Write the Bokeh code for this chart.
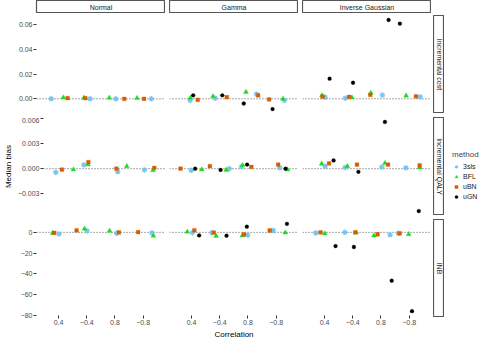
import math
from bokeh.plotting import figure
from bokeh.models import Range1d, FixedTicker, Span, Legend, LegendItem
from bokeh.layouts import row, column
from bokeh.embed import file_html
from bokeh.resources import INLINE
from bokeh.core.properties import value

# ---------------- data ----------------
methods = ["3sls", "BFL", "uBN", "uGN"]
correlations = ["0.4", "\u22120.4", "0.8", "\u22120.8"]
distributions = ["Normal", "Gamma", "Inverse Gaussian"]
outcomes = ["Incremental cost", "Incremental QALY", "INB"]

# values ordered method-major (3sls, BFL, uBN[, uGN]) x correlation (0.4, -0.4, 0.8, -0.8)
bias_normal_cost = [0.0, 0.0, 0.0, 0.0, 0.001, 0.0008, 0.0008, 0.0006, 0.0005, 0.0005, 0.0, 0.0]
jit_normal_cost = [-0.26, 0.12, 0.03, 0.29, 0.17, -0.10, -0.20, -0.22, 0.32, -0.05, 0.33, 0.03]
bias_normal_qaly = [-0.00045, 0.00045, -0.00035, -0.00015, -0.0001, 0.0005, 0.0003, -0.0002, -0.0001, 0.0008, 0.0, 0.0001]
jit_normal_qaly = [-0.32, -0.27, 0.0, 0.0, 0.34, -0.11, 0.34, 0.32, -0.09, -0.10, -0.05, 0.37]
bias_normal_inb = [-1.5, 1.4, -0.9, -0.5, -0.6, 3.5, 1.4, -3.3, -0.5, 2.0, 0.0, 0.3]
jit_normal_inb = [0.02, 0.01, 0.06, 0.31, -0.21, -0.08, -0.19, 0.36, -0.15, -0.36, 0.14, -0.18]

bias_gamma_cost = [-0.0013, 0.0005, 0.0037, -0.0013, 0.0008, 0.002, 0.0055, 0.0, -0.0008, 0.0013, 0.0028, -0.0005, 0.0028, 0.0028, -0.0038, -0.0083]
jit_gamma_cost = [-0.05, -0.16, 0.30, 0.29, -0.04, -0.24, -0.07, 0.24, 0.22, 0.25, 0.36, -0.25, 0.06, 0.09, -0.15, -0.13]
bias_gamma_qaly = [-0.0002, 0.0, 0.00026, 0.0001, -0.0001, -0.00015, 0.0004, -0.0001, 0.0, 0.0003, 0.00022, 0.0005, 0.0, -0.00015, 0.0005, 0.0]
jit_gamma_qaly = [-0.01, 0.34, -0.23, 0.13, 0.36, 0.23, -0.19, 0.40, -0.39, -0.35, 0.12, 0.07, 0.13, 0.03, -0.03, 0.33]
bias_gamma_inb = [-0.3, -0.3, -2.6, 1.8, 0.5, -3.5, -3.2, -0.3, 2.0, -0.3, -2.0, 1.8, -3.0, -3.2, 5.5, 8.2]
jit_gamma_inb = [0.03, -0.28, -0.01, -0.11, -0.15, -0.13, -0.20, 0.32, 0.10, -0.21, -0.14, -0.23, 0.27, 0.24, -0.04, 0.38]

bias_ig_cost = [0.0013, 0.0005, 0.003, 0.0015, 0.0028, 0.001, 0.0047, 0.0025, 0.0017, 0.0015, 0.0032, 0.002, 0.0163, 0.013, 0.0638, 0.0608]
jit_ig_cost = [0.02, -0.26, 0.05, 0.39, -0.09, -0.03, -0.36, -0.11, -0.07, -0.13, -0.38, 0.24, 0.18, 0.01, 0.27, -0.33]
bias_ig_qaly = [0.0003, 0.00015, 0.0002, 0.0001, 0.0006, 0.0003, 0.00067, 0.00015, 0.00063, 0.00048, 0.00048, 0.0004, 0.001, -0.00038, 0.00563, -0.0051]
jit_ig_qaly = [0.02, -0.27, 0.03, -0.12, -0.10, -0.19, 0.14, 0.37, 0.16, 0.15, 0.25, 0.37, 0.32, 0.20, 0.14, 0.34]
bias_ig_inb = [-0.6, 0.0, -2.4, -0.9, -1.2, -0.3, -3.2, -1.8, 0.0, 0.0, -1.8, -0.9, -13.2, -14.1, -46.6, -76.0]
jit_ig_inb = [-0.31, -0.28, 0.32, -0.38, 0.01, 0.12, -0.25, -0.02, -0.14, 0.09, -0.12, -0.34, 0.39, 0.04, 0.38, 0.10]

yticks_cost = [0.0, 0.02, 0.04, 0.06]
ylabels_cost = ["0.00", "0.02", "0.04", "0.06"]
yticks_qaly = [-0.003, 0.0, 0.003, 0.006]
ylabels_qaly = ["\u22120.003", "0.000", "0.003", "0.006"]
yticks_inb = [-80, -60, -40, -20, 0]
ylabels_inb = ["\u221280", "\u221260", "\u221240", "\u221220", "0"]

# ---------------- styling ----------------
FONT = "Liberation Sans"
PW, PH = 129, 98
LB, BB = 36, 24
STRIP_H, RSTRIP_W, GAP = 13, 11, 4

marker_style = {
    "3sls": dict(marker="asterisk", size=5.5, line_color="#74c2f2", line_width=1.3, line_alpha=0.95),
    "BFL": dict(marker="triangle", size=5, line_color="#1adc1a", fill_color="#1adc1a", line_width=0.3),
    "uBN": dict(marker="square", size=3.8, line_color="#d55e00", fill_color="#d55e00", line_width=0.3),
    "uGN": dict(marker="circle", size=3.8, line_color="black", fill_color="black", line_width=0.3),
}

panel_data = [
    [(bias_normal_cost, jit_normal_cost), (bias_gamma_cost, jit_gamma_cost), (bias_ig_cost, jit_ig_cost)],
    [(bias_normal_qaly, jit_normal_qaly), (bias_gamma_qaly, jit_gamma_qaly), (bias_ig_qaly, jit_ig_qaly)],
    [(bias_normal_inb, jit_normal_inb), (bias_gamma_inb, jit_gamma_inb), (bias_ig_inb, jit_ig_inb)],
]
row_ticks = [(yticks_cost, ylabels_cost), (yticks_qaly, ylabels_qaly), (yticks_inb, ylabels_inb)]

x_range = Range1d(0.22, 4.79)

def y_range_for(r):
    vals = [v for (b, _) in panel_data[r] for v in b]
    lo, hi = min(vals), max(vals)
    pad = 0.05 * (hi - lo)
    return Range1d(lo - pad, hi + pad)

def style_axes(p):
    for ax in p.axis:
        ax.axis_line_color = None
        ax.minor_tick_line_color = None
        ax.major_tick_line_color = "#333333"
        ax.major_tick_in = 0
        ax.major_tick_out = 3
        ax.major_label_standoff = 1
        ax.major_label_text_font = FONT
        ax.major_label_text_font_size = "7px"
        ax.major_label_text_color = "#4d4d4d"
        ax.axis_label_text_font = FONT
        ax.axis_label_text_font_size = "8px"
        ax.axis_label_text_font_style = "normal"
        ax.axis_label_text_color = "black"
        ax.axis_label_standoff = 2

def blank_fig(w, h, left=0):
    f = figure(width=w, height=h, x_range=Range1d(0, 1), y_range=Range1d(0, 1),
               output_backend="svg", toolbar_location=None, tools="",
               x_axis_location=None, y_axis_location=None,
               min_border_left=left, min_border_right=0, min_border_top=0, min_border_bottom=0)
    f.grid.visible = False
    f.background_fill_color = "white"
    f.border_fill_color = "white"
    return f

# top strips
top_strips = []
for c, dname in enumerate(distributions):
    s = blank_fig(PW + (LB if c == 0 else 0), STRIP_H, LB if c == 0 else 0)
    s.outline_line_color = "#555555"
    s.outline_line_width = 1.2
    s.text(x=[0.5], y=[0.5], text=[dname], text_align="center", text_baseline="middle",
           text_font=value(FONT), text_font_size="7px", text_color="#1a1a1a")
    top_strips.append(s)

panel_rows = []
for r in range(3):
    yr = y_range_for(r)
    figs = []
    for c in range(3):
        w = PW + (LB if c == 0 else 0)
        h = PH + (BB if r == 2 else 0)
        p = figure(width=w, height=h, x_range=x_range, y_range=yr,
                   output_backend="svg", toolbar_location=None, tools="",
                   x_axis_location="below" if r == 2 else None,
                   y_axis_location="left" if c == 0 else None,
                   min_border_left=LB if c == 0 else 0, min_border_right=0,
                   min_border_top=0, min_border_bottom=BB if r == 2 else 0)
        p.grid.visible = False
        p.outline_line_color = None
        p.background_fill_color = "white"
        p.border_fill_color = "white"
        if r == 2:
            p.xaxis.ticker = FixedTicker(ticks=[1, 2, 3, 4])
            p.xaxis.major_label_overrides = {i + 1: lab for i, lab in enumerate(correlations)}
            if c == 1:
                p.xaxis.axis_label = "Correlation"
        if c == 0:
            ticks, labels = row_ticks[r]
            p.yaxis.ticker = FixedTicker(ticks=ticks)
            p.yaxis.major_label_overrides = {t: l for t, l in zip(ticks, labels)}
            if r == 1:
                p.yaxis.axis_label = "Median bias"
        style_axes(p)
        p.add_layout(Span(location=0, dimension="width", line_color="#444444",
                          line_dash="1 2", line_width=0.9, level="underlay"))
        bias, jit = panel_data[r][c]
        nm = len(bias) // 4
        for m in range(nm):
            xs = [k + 1 + jit[m * 4 + k] for k in range(4)]
            ys = bias[m * 4:(m + 1) * 4]
            p.scatter(x=xs, y=ys, **marker_style[methods[m]])
        figs.append(p)
    rs = blank_fig(RSTRIP_W, PH)
    rs.outline_line_color = "#555555"
    rs.outline_line_width = 1.2
    rs.text(x=[0.5], y=[0.5], text=[outcomes[r]], text_align="center", text_baseline="middle",
            angle=-math.pi / 2, text_font=value(FONT), text_font_size="7px", text_color="#1a1a1a")
    panel_rows.append(row(row(*figs, spacing=GAP), rs, spacing=2))

main = column(row(*top_strips, spacing=GAP), column(*panel_rows, spacing=GAP), spacing=2)

total_h = STRIP_H + 2 + 3 * PH + 2 * GAP + BB
lf = blank_fig(33, total_h)
lf.outline_line_color = None
items = []
nan = float("nan")
for m in methods:
    rend = lf.scatter(x=[nan], y=[nan], **marker_style[m])
    items.append(LegendItem(label=m, renderers=[rend]))
legend = Legend(items=items, title="method", location=(6, 140),
                border_line_color=None, background_fill_alpha=0,
                padding=0, margin=0, spacing=1,
                glyph_width=8, glyph_height=9, label_height=9, label_standoff=3,
                label_text_font=FONT, label_text_font_size="7px", label_text_color="#1a1a1a",
                title_text_font=FONT, title_text_font_size="8px", title_text_font_style="normal",
                title_standoff=3)
lf.add_layout(legend)

layout = row(main, lf, spacing=2)

open("out.html", "w").write(file_html(layout, INLINE))
